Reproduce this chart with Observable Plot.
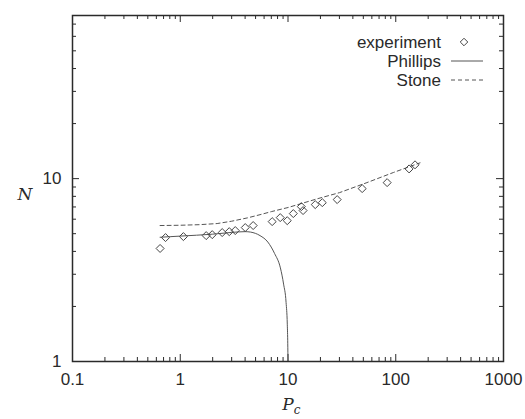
<!DOCTYPE html>
<html>
<head>
<meta charset="utf-8">
<script src="https://cdn.jsdelivr.net/npm/d3@7"></script>
<script src="https://cdn.jsdelivr.net/npm/@observablehq/plot@0.6"></script>
<style>
  html, body { margin: 0; padding: 0; background: #fff; }
  #chart svg { display: block; }
</style>
</head>
<body>
<div id="chart"></div>
<script>
// ---- data ----
const xMajor = [0.1, 1, 10, 100, 1000];
const xTickLabels = ["0.1", "1", "10", "100", "1000"];
const yMajor = [1, 10];
const yTickLabels = ["1", "10"];

const expX = [0.65, 0.73, 1.07, 1.74, 1.98, 2.45, 2.85, 3.24, 4.01, 4.75, 7.13, 8.47, 9.84, 11.2, 13.3, 13.8, 17.9, 20.8, 28.6, 48.8, 83.2, 133, 151];
const expY = [4.15, 4.76, 4.82, 4.88, 4.94, 5.07, 5.13, 5.20, 5.40, 5.54, 5.82, 6.12, 5.89, 6.44, 7.03, 6.69, 7.21, 7.39, 7.68, 8.82, 9.51, 11.3, 11.9];

const phillipsX = [0.65, 1, 2, 3, 4, 4.5, 5.5, 6.5, 7.5, 8.5, 9.1, 9.6, 9.85, 9.95, 10];
const phillipsY = [4.78, 4.85, 4.97, 5.08, 5.13, 5.1, 4.88, 4.5, 3.9, 3.25, 2.65, 2.1, 1.6, 1.25, 1.0];

const stoneX = [0.65, 1.0, 1.5, 2.2, 3.0, 4.2, 5.5, 7.0, 10, 19, 30, 54, 95, 168];
const stoneY = [5.54, 5.56, 5.6, 5.68, 5.85, 6.1, 6.35, 6.6, 6.95, 7.78, 8.38, 9.51, 10.8, 12.2];

const legendLabels = ["experiment", "Phillips", "Stone"];

// ---- tables ----
const experiment = expX.map((x, i) => ({x, y: expY[i]}));
const phillips = phillipsX.map((x, i) => ({x, y: phillipsY[i]}));
const stone = stoneX.map((x, i) => ({x, y: stoneY[i]}));

const W = 525, H = 419;
const mL = 72, mR = 22, mT = 15, mB = 58;
const fw = W - mL - mR, fh = H - mT - mB;
const xDomain = [0.1, 1000], yDomain = [1, 78];

const xMinor = d3.scaleLog().domain(xDomain).ticks().filter(t => !xMajor.includes(t));
const yMinor = d3.scaleLog().domain(yDomain).ticks().filter(t => !yMajor.includes(t) && t < yDomain[1]);

const ink = "#2a2a2a";
const font = "Liberation Sans, Arial, sans-serif";
const MAJ = 7, MIN = 4;

const chart = Plot.plot({
  width: W, height: H,
  marginLeft: mL, marginRight: mR, marginTop: mT, marginBottom: mB,
  style: {fontFamily: font, fontSize: "17px", color: ink, background: "#fff"},
  x: {type: "log", domain: xDomain},
  y: {type: "log", domain: yDomain},
  marks: [
    // inward ticks on all four sides
    Plot.tickX(xMajor, {x: d => d, insetTop: fh - MAJ, stroke: ink}),
    Plot.tickX(xMajor, {x: d => d, insetBottom: fh - MAJ, stroke: ink}),
    Plot.tickX(xMinor, {x: d => d, insetTop: fh - MIN, stroke: ink}),
    Plot.tickX(xMinor, {x: d => d, insetBottom: fh - MIN, stroke: ink}),
    Plot.tickY(yMajor, {y: d => d, insetRight: fw - MAJ, stroke: ink}),
    Plot.tickY(yMajor, {y: d => d, insetLeft: fw - MAJ, stroke: ink}),
    Plot.tickY(yMinor, {y: d => d, insetRight: fw - MIN, stroke: ink}),
    Plot.tickY(yMinor, {y: d => d, insetLeft: fw - MIN, stroke: ink}),
    Plot.axisX({ticks: xMajor, tickSize: 0, tickPadding: 11, tickFormat: d => xTickLabels[xMajor.indexOf(d)], label: null, fontSize: 17, fill: ink}),
    Plot.axisY({ticks: yMajor, tickSize: 0, tickPadding: 11, tickFormat: d => yTickLabels[yMajor.indexOf(d)], label: null, fontSize: 17, fill: ink}),
    // axis titles
    Plot.text(["N"], {frameAnchor: "left", dx: -55, dy: 6, text: d => d, fontFamily: "DejaVu Serif", fontStyle: "italic", fontSize: 17, fill: ink}),
    Plot.text(["P"], {frameAnchor: "bottom", dy: 48, text: d => d, fontFamily: "DejaVu Serif", fontStyle: "italic", fontSize: 17, fill: ink}),
    Plot.text(["c"], {frameAnchor: "bottom", dx: 9, dy: 52, text: d => d, fontFamily: "DejaVu Serif", fontStyle: "italic", fontSize: 12, fill: ink}),
    // data
    Plot.line(stone, {x: "x", y: "y", stroke: "#555", strokeWidth: 1, strokeDasharray: "4,3"}),
    Plot.line(phillips, {x: "x", y: "y", stroke: "#555", strokeWidth: 1, curve: "monotone-x"}),
    Plot.dot(experiment, {x: "x", y: "y", symbol: "diamond2", r: 3.6, stroke: "#444", strokeWidth: 1, fill: "none"}),
    Plot.frame({stroke: ink, strokeWidth: 1.5})
  ]
});

document.getElementById("chart").append(chart);

// legend (top right, inside the frame)
const svg = d3.select(chart);
const lg = svg.append("g").attr("font-family", font).attr("font-size", 17).attr("fill", ink);
const rows = [42, 61, 80];
legendLabels.forEach((lab, i) => {
  lg.append("text").attr("x", 441).attr("y", rows[i]).attr("dy", "0.35em").attr("text-anchor", "end").text(lab);
});
lg.append("path").attr("d", d3.symbol(d3.symbolDiamond2, 36)()).attr("transform", `translate(464,${rows[0]})`)
  .attr("fill", "none").attr("stroke", "#444");
lg.append("line").attr("x1", 451).attr("x2", 483).attr("y1", rows[1]).attr("y2", rows[1]).attr("stroke", "#555");
lg.append("line").attr("x1", 451).attr("x2", 483).attr("y1", rows[2]).attr("y2", rows[2]).attr("stroke", "#555").attr("stroke-dasharray", "4,3");
</script>
</body>
</html>
